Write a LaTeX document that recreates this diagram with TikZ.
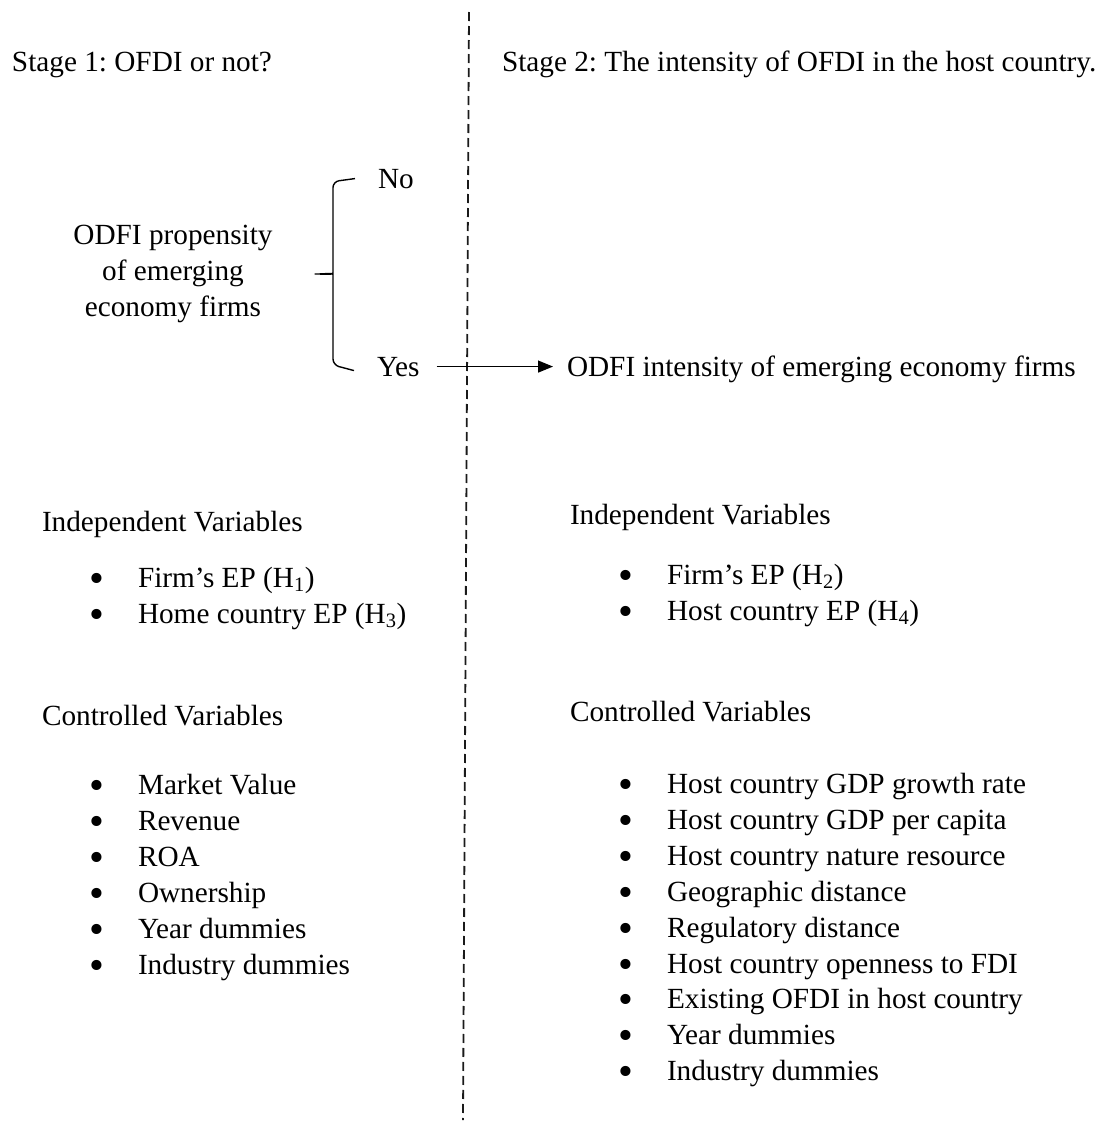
\documentclass[tikz,border=0pt]{standalone}
\usepackage{fontspec}
\usepackage{graphicx}
\setmainfont{Liberation Serif}
\frenchspacing
\usetikzlibrary{arrows.meta}
\definecolor{c1a1a1a}{RGB}{26,26,26}
\newcommand\listdot{\raisebox{-5pt}[0pt][0pt]{\scalebox{1.45}{\textbullet}}}

\begin{document}
\begin{tikzpicture}[x=1pt, y=-1pt, inner sep=0pt, outer sep=0pt,
  every node/.append style={font=\fontsize{29.25}{36}\selectfont, text=black},
  txt/.style={anchor=base west},
  bitem/.style={anchor=base west, execute at begin node={\makebox[49pt][l]{\listdot}}},
  divider/.style={draw=c1a1a1a, line width=1.8pt, dash pattern=on 9pt off 5pt},
  flow/.style={draw=black, line width=1.3pt, -{Triangle[length=15pt,width=12pt]}}]
  \useasboundingbox (0,0) rectangle (1102,1122);

  % divider between the two stages
  \coordinate (divtop) at (469,12);
  \coordinate (divbot) at (463,1120);
  \path[divider] (divtop) -- (divbot);

  \node[txt] (stageone) at (12,71) {Stage 1: OFDI or not?};
  \node[txt] (stagetwo) at (502,71) {Stage 2: The intensity of OFDI in the host country.};

  % stage 1 decision
  \node[align=center] (propensity) at (173,274) {ODFI propensity\\of emerging\\economy firms};
  \node[txt] (no) at (378,188) {No};
  \node[txt] (yes) at (377,376) {Yes};

  \coordinate (bracetop) at ([xshift=-23pt]no.west);
  \coordinate (bracebot) at ([xshift=-23pt,yshift=-4pt]yes.west);
  \coordinate (bracetip) at ([xshift=-44pt]bracetop |- propensity.east);
  \path[draw=black, line width=1.4pt, rounded corners=6pt]
    (bracetop) -- ++(-22,3) -- ++(0,87)
    .. controls +(0,4) and +(14,0) .. (bracetip)
    .. controls +(14,0) and +(0,-4) .. ++(22,5)
    -- ++(0,86) -- (bracebot);

  \node[txt] (intensity) at (567,376) {ODFI intensity of emerging economy firms};
  \path[flow, shorten <=17pt, shorten >=14pt] (yes.east) -- (yes.east -| intensity.west);

  % left column
  \node[txt] (indepone) at (42,531) {Independent Variables};
  \node[bitem] (firmone) at (89,587) {Firm’s EP (H\textsubscript{1})};
  \node[bitem] (homeone) at (89,623) {Home country EP (H\textsubscript{3})};

  \node[txt] (ctrlone) at (42,725) {Controlled Variables};
  \node[bitem] (marketone) at (89,794) {Market Value};
  \node[bitem] (revenueone) at (89,830) {Revenue};
  \node[bitem] (roaone) at (89,866) {ROA};
  \node[bitem] (ownone) at (89,902) {Ownership};
  \node[bitem] (yearone) at (89,938) {Year dummies};
  \node[bitem] (industryone) at (89,974) {Industry dummies};

  % right column
  \node[txt] (indeptwo) at (570,524) {Independent Variables};
  \node[bitem] (firmtwo) at (618,584) {Firm’s EP (H\textsubscript{2})};
  \node[bitem] (hosttwo) at (618,620) {Host country EP (H\textsubscript{4})};

  \node[txt] (ctrltwo) at (570,721) {Controlled Variables};
  \node[bitem] (growthtwo) at (618,793) {Host country GDP growth rate};
  \node[bitem] (capitatwo) at (618,829) {Host country GDP per capita};
  \node[bitem] (naturetwo) at (618,865) {Host country nature resource};
  \node[bitem] (geotwo) at (618,901) {Geographic distance};
  \node[bitem] (regtwo) at (618,937) {Regulatory distance};
  \node[bitem] (opentwo) at (618,973) {Host country openness to FDI};
  \node[bitem] (existtwo) at (618,1008) {Existing OFDI in host country};
  \node[bitem] (yeartwo) at (618,1044) {Year dummies};
  \node[bitem] (industrytwo) at (618,1080) {Industry dummies};

\end{tikzpicture}
\end{document}
